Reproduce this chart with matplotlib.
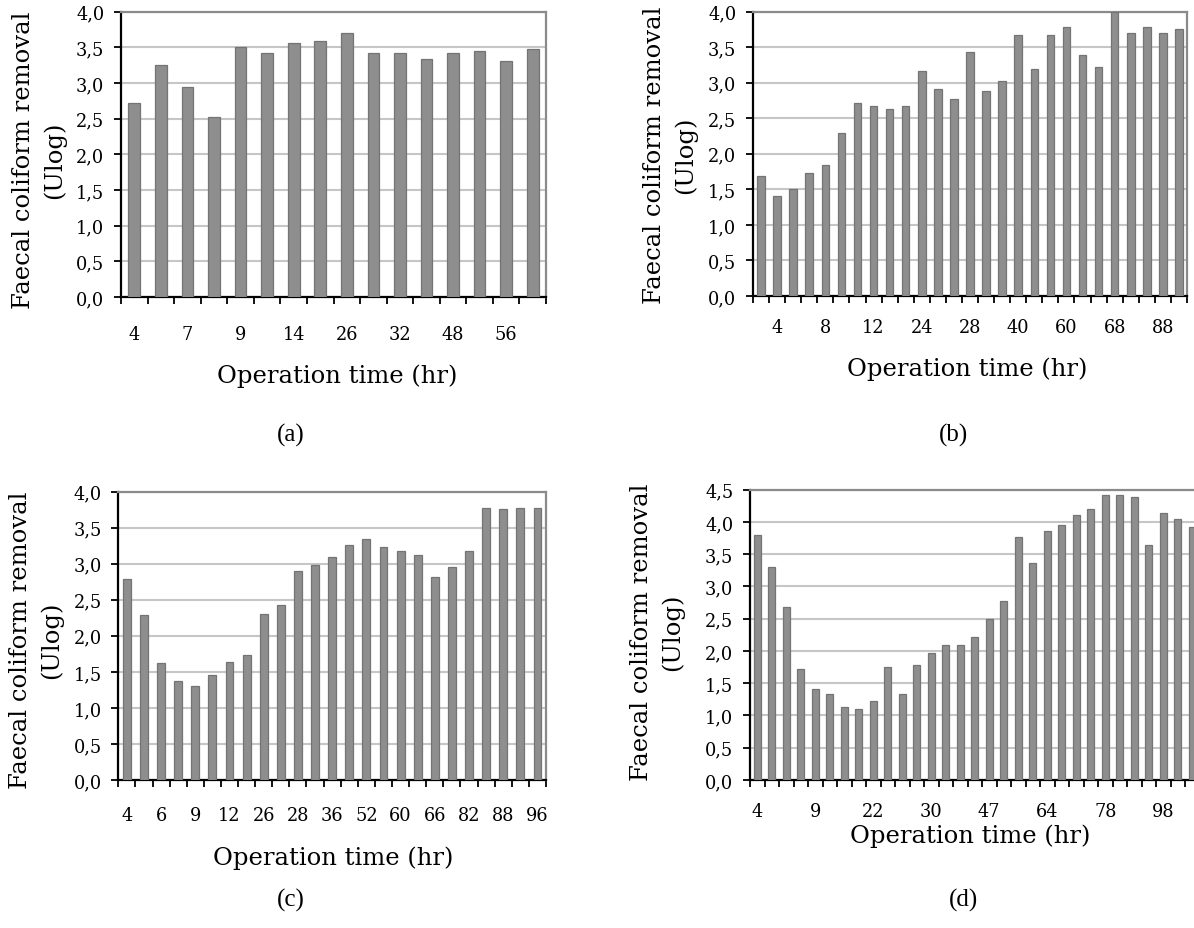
import numpy as np
import matplotlib
matplotlib.use("Agg")
import matplotlib.pyplot as plt
from matplotlib.ticker import FixedLocator, FuncFormatter

# ---------------- data ----------------
a_labels = ['4', '7', '9', '14', '26', '32', '48', '56']
a_values = [2.72, 3.25, 2.95, 2.53, 3.51, 3.42, 3.56, 3.59, 3.70, 3.42,
            3.42, 3.34, 3.42, 3.45, 3.31, 3.48]

b_labels = ['4', '8', '12', '24', '28', '40', '60', '68', '88']
b_values = [1.69, 1.41, 1.50, 1.73, 1.84, 2.29, 2.71, 2.68, 2.63, 2.68,
            3.16, 2.91, 2.77, 3.44, 2.88, 3.03, 3.67, 3.19, 3.67, 3.78,
            3.39, 3.22, 3.99, 3.70, 3.78, 3.70, 3.76]

c_labels = ['4', '6', '9', '12', '26', '28', '36', '52', '60', '66', '82', '88', '96']
c_values = [2.79, 2.29, 1.62, 1.37, 1.31, 1.45, 1.64, 1.73, 2.31, 2.43,
            2.90, 2.98, 3.09, 3.26, 3.34, 3.23, 3.18, 3.12, 2.81, 2.95,
            3.18, 3.78, 3.76, 3.78, 3.78]

d_labels = ['4', '9', '22', '30', '47', '64', '78', '98']
d_values = [3.80, 3.30, 2.68, 1.72, 1.41, 1.34, 1.13, 1.10, 1.22, 1.75,
            1.34, 1.78, 1.97, 2.09, 2.09, 2.21, 2.49, 2.77, 3.77, 3.36,
            3.86, 3.95, 4.11, 4.20, 4.42, 4.42, 4.39, 3.64, 4.14, 4.05, 3.92]

y_label = "Faecal coliform removal\n(Ulog)"
x_label = "Operation time (hr)"
captions = ['(a)', '(b)', '(c)', '(d)']

# ---------------- layout ----------------
W, H = 1194, 929
fig = plt.figure(figsize=(W / 100, H / 100), dpi=100)
fig.patch.set_facecolor('white')

SERIF = ['DejaVu Serif']
TICK_FS = 12.8
LABEL_FS = 17.5


def box(l, t, r, b):
    return [l / W, 1 - b / H, (r - l) / W, (b - t) / H]


def fxy(x, y):
    return x / W, 1 - y / H


panels = [
    dict(values=a_values, labels=a_labels, start=0, step=2, ymax=4.0,
         rect=(121, 12.7, 546, 298), width=0.44, pad=20,
         ylab=(39, 160), xlab=(337, 376), cap=(291, 435)),
    dict(values=b_values, labels=b_labels, start=1, step=3, ymax=4.0,
         rect=(753, 12.7, 1187, 297), width=0.47, pad=16,
         ylab=(670, 155), xlab=(967, 369), cap=(954, 435)),
    dict(values=c_values, labels=c_labels, start=0, step=2, ymax=4.0,
         rect=(118.3, 492.7, 546, 781), width=0.46, pad=19,
         ylab=(36, 640), xlab=(333, 858), cap=(291, 900)),
    dict(values=d_values, labels=d_labels, start=0, step=4, ymax=4.5,
         rect=(750, 490.7, 1199.5, 781), width=0.5, pad=16,
         ylab=(657, 632), xlab=(970, 836), cap=(963, 900)),
]

comma_fmt = FuncFormatter(lambda v, p: f"{v:.1f}".replace('.', ','))

for i, p in enumerate(panels):
    ax = fig.add_axes(box(*p['rect']))
    vals = p['values']
    n = len(vals)
    x = np.arange(n)
    ax.bar(x, vals, width=p['width'], color='#8e8e8e', edgecolor='#747474',
           linewidth=0.9, zorder=3)
    ax.set_xlim(-0.5, n - 0.5)
    ax.set_ylim(0, p['ymax'])
    ax.set_yticks(np.arange(0, p['ymax'] + 0.01, 0.5))
    ax.yaxis.set_major_formatter(comma_fmt)
    ax.yaxis.grid(True, color='#c6c6c6', linewidth=1.5, zorder=0)
    ax.set_axisbelow(True)

    pos = [p['start'] + p['step'] * k for k in range(len(p['labels']))]
    ax.xaxis.set_major_locator(FixedLocator(pos))
    ax.set_xticklabels(p['labels'])
    ax.xaxis.set_minor_locator(FixedLocator(np.arange(n + 1) - 0.5))
    ax.tick_params(axis='x', which='major', length=0, pad=p['pad'],
                   labelsize=TICK_FS)
    ax.tick_params(axis='x', which='minor', length=5, width=1.3,
                   direction='out', color='black')
    ax.tick_params(axis='y', which='major', length=5, width=1.3,
                   direction='out', pad=7, labelsize=TICK_FS)
    for lab in ax.get_xticklabels() + ax.get_yticklabels():
        lab.set_family(SERIF)

    for s in ('left', 'bottom'):
        ax.spines[s].set_color('black')
        ax.spines[s].set_linewidth(1.6)
    for s in ('top', 'right'):
        ax.spines[s].set_color('#8a8a8a')
        ax.spines[s].set_linewidth(1.6)

    fig.text(*fxy(*p['ylab']), y_label, rotation=90, ha='center',
             va='center', fontsize=LABEL_FS, family=SERIF, linespacing=1.45,
             multialignment='center')
    fig.text(*fxy(*p['xlab']), x_label, ha='center', va='center',
             fontsize=LABEL_FS, family=SERIF)
    fig.text(*fxy(*p['cap']), captions[i], ha='center', va='center',
             fontsize=18, family=['Liberation Serif'])

fig.savefig('out.png', dpi=100, facecolor='white')
